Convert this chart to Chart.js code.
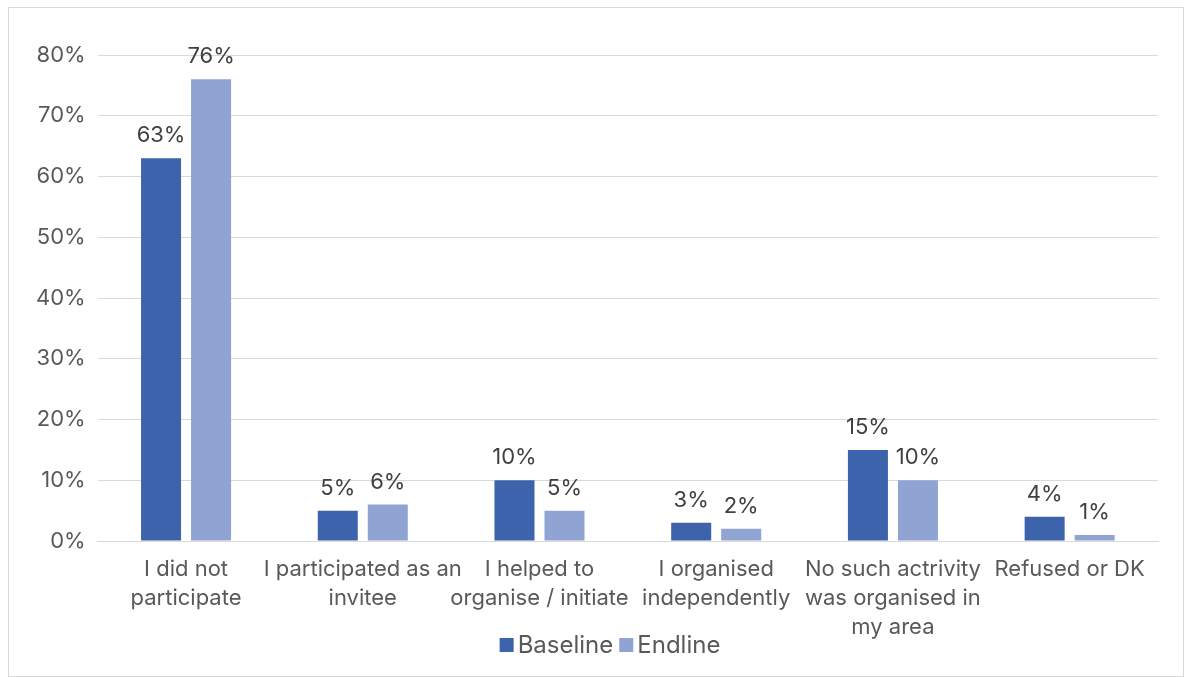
<!DOCTYPE html>
<html><head><meta charset="utf-8">
<script src="https://cdn.jsdelivr.net/npm/chart.js@4/dist/chart.umd.min.js"></script>
<style>html,body{margin:0;padding:0;background:#fff;}#wrap{width:1185px;height:677px;position:relative;}</style>
</head><body><div id="wrap"><canvas id="c" width="1185" height="677"></canvas></div>
<script>
const categories = [
  ["I did not", "participate"],
  ["I participated as an", "invitee"],
  ["I helped to", "organise / initiate"],
  ["I organised", "independently"],
  ["No such actrivity", "was organised in", "my area"],
  ["Refused or DK"]
];
const baseline = [63, 5, 10, 3, 15, 4];
const endline = [76, 6, 5, 2, 10, 1];
const seriesNames = ["Baseline", "Endline"];
const yTicks = [0, 10, 20, 30, 40, 50, 60, 70, 80];
const colors = ['#3C63AC', '#8FA4D3'];

const FONT = "Inter, 'Liberation Sans', sans-serif";

const frame = {
  id: 'frame',
  beforeDraw(chart) {
    const ctx = chart.ctx;
    ctx.save();
    ctx.fillStyle = '#fff';
    ctx.fillRect(0, 0, chart.width, chart.height);
    ctx.strokeStyle = '#d9d9d9';
    ctx.lineWidth = 1;
    ctx.strokeRect(8.5, 7.5, 1175, 669);
    ctx.restore();
  }
};
const labels = {
  id: 'vlabels',
  afterDatasetsDraw(chart) {
    const ctx = chart.ctx;
    ctx.save();
    ctx.font = "22px " + FONT;
    ctx.fillStyle = '#404040';
    ctx.textAlign = 'center';
    ctx.textBaseline = 'alphabetic';
    chart.data.datasets.forEach((ds, i) => {
      chart.getDatasetMeta(i).data.forEach((bar, j) => {
        ctx.fillText(ds.data[j] + '%', bar.x, bar.y - 16);
      });
    });
    ctx.restore();
  }
};
const legendPlugin = {
  id: 'customLegend',
  afterDraw(chart) {
    const ctx = chart.ctx;
    ctx.save();
    ctx.font = "24px " + FONT;
    ctx.textBaseline = 'middle';
    ctx.textAlign = 'left';
    const box = 14, gapT = 4, gapI = 6;
    const ds = chart.data.datasets;
    let total = 0;
    ds.forEach((d, i) => { total += box + gapT + ctx.measureText(d.label).width + (i < ds.length - 1 ? gapI : 0); });
    let x = 610 - total / 2;
    const cy = 645;
    ds.forEach((d) => {
      ctx.fillStyle = d.backgroundColor;
      ctx.fillRect(x, cy - box / 2, box, box);
      x += box + gapT;
      ctx.fillStyle = '#595959';
      ctx.fillText(d.label, x, cy + 1);
      x += ctx.measureText(d.label).width + gapI;
    });
    ctx.restore();
  }
};

new Chart(document.getElementById('c'), {
  type: 'bar',
  data: {
    labels: categories,
    datasets: [
      { label: seriesNames[0], data: baseline, backgroundColor: colors[0], categoryPercentage: 0.566, barPercentage: 0.8 },
      { label: seriesNames[1], data: endline, backgroundColor: colors[1], categoryPercentage: 0.566, barPercentage: 0.8 }
    ]
  },
  options: {
    responsive: false,
    animation: false,
    layout: { padding: { left: 24, right: 27, top: 55, bottom: 26 } },
    plugins: {
      legend: { display: false },
      tooltip: { enabled: false }
    },
    scales: {
      y: {
        min: 0, max: 80,
        afterBuildTicks(axis) { axis.ticks = yTicks.map(v => ({ value: v })); },
        ticks: { callback: v => v + '%', color: '#595959', font: { size: 22, family: FONT }, padding: 12 },
        grid: { color: '#d9d9d9', drawTicks: false },
        border: { display: false }
      },
      x: {
        afterFit(axis) { axis.height = 110; },
        ticks: { color: '#595959', font: { size: 22, family: FONT, lineHeight: 1.32 }, padding: 14, maxRotation: 0, autoSkip: false },
        grid: { display: false, drawTicks: false },
        border: { color: '#d9d9d9' }
      }
    }
  },
  plugins: [frame, labels, legendPlugin]
});
</script></body></html>
